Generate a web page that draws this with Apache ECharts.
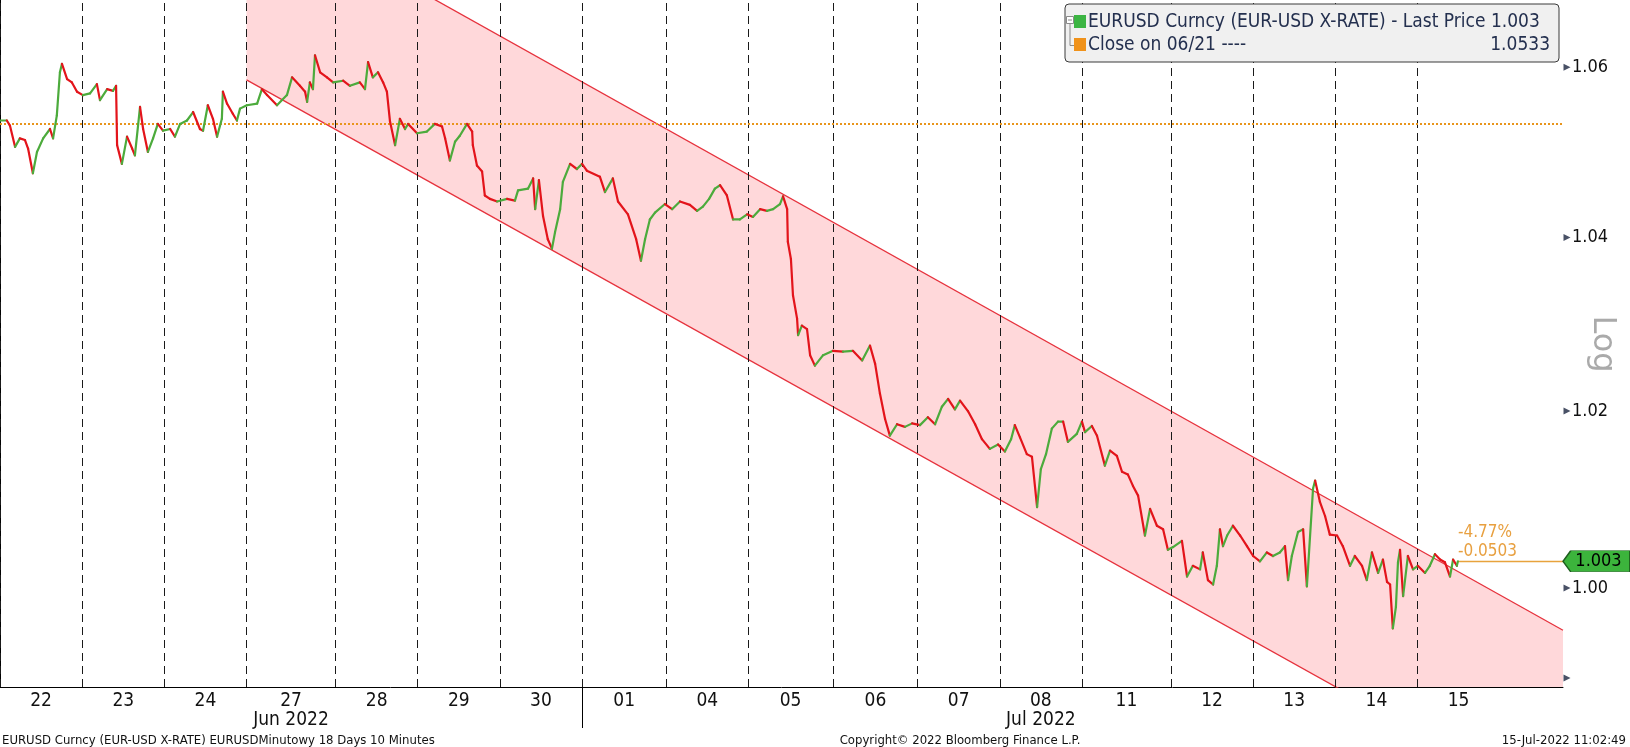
<!DOCTYPE html>
<html><head><meta charset="utf-8">
<script src="https://cdn.jsdelivr.net/npm/echarts@6/dist/echarts.min.js"></script>
<style>html,body{margin:0;padding:0;background:#fff}#c{width:1630px;height:747px}</style>
</head><body><div id="c"></div>
<script>
const FONT = '"DejaVu Sans Condensed","DejaVu Sans",sans-serif';
// x axis in session hours from the 22 Jun open
const dayLabels  = ['22','23','24','27','28','29','30','01','04','05','06','07','08','11','12','13','14','15'];
const dayStarts  = [0,24,48,72,98,122,146,170,194.6,218.5,243.3,268,292,316,342,366,390,414];
const dayCenters = [12,36,60,85,110,134,158,182.3,206.6,230.9,255.7,280,304,329,354,378,402,426];
const monthAt    = ['27','08'];
const monthNames = ['Jun 2022','Jul 2022'];
const monthBreak = 170;
const xMax = 456.5;
const yMin = 0.989, yMax = 1.068;
const yTickValues  = [0.99, 1.00, 1.02, 1.04, 1.06];
const yLabelValues = [1.00, 1.02, 1.04, 1.06];
const lastPrice = 1.003;
const refClose  = 1.0533;
const changeTexts = ['-4.77%', '-0.0503'];
const channelUpper = [[72, 1.0807], [456.5, 0.9953]];
const channelLower = [[72, 1.0585], [456.5, 0.9751]];
// EURUSD path [hour, price]
const eurusd = [
[0,1.0537],[2.0,1.0537],[2.9,1.0531],[4.4,1.0506],[5.8,1.0516],[7.3,1.0514],[8.2,1.0504],[9.6,1.0475],[10.8,1.0500],[12.6,1.0516],
[14.6,1.0527],[15.5,1.0516],[16.6,1.0543],[17.5,1.0594],[18.1,1.0604],[19.6,1.0586],[21.0,1.0582],[22.5,1.0571],[24.2,1.0567],[26.3,1.0569],
[28.3,1.0580],[29.2,1.0561],[31.3,1.0574],[33.0,1.0572],[33.9,1.0578],[34.2,1.0508],[35.6,1.0486],[37.1,1.0518],[38.6,1.0504],[39.4,1.0496],
[40.9,1.0553],[41.8,1.0527],[43.2,1.0500],[44.7,1.0516],[46.1,1.0533],[47.6,1.0525],[49.7,1.0527],[51.1,1.0518],[52.6,1.0533],[54.6,1.0537],
[56.4,1.0547],[58.4,1.0527],[59.3,1.0525],[60.7,1.0555],[62.2,1.0539],[63.4,1.0518],[64.8,1.0539],[65.1,1.0571],[66.3,1.0557],[68.0,1.0545],
[69.2,1.0537],[70.1,1.0551],[72.1,1.0555],[75.1,1.0557],[76.5,1.0574],[78.0,1.0567],[80.9,1.0555],[83.8,1.0567],[85.3,1.0588],[87.6,1.0578],
[89.1,1.0571],[89.7,1.0559],[90.5,1.0582],[91.4,1.0574],[92.0,1.0614],[93.5,1.0594],[95.5,1.0588],[97.3,1.0582],[100.2,1.0584],[102.2,1.0578],
[105.1,1.0582],[106.6,1.0574],[107.5,1.0606],[108.9,1.0588],[110.4,1.0594],[111.9,1.0582],[113.0,1.0571],[113.9,1.0536],[115.4,1.0508],[116.8,1.0539],
[118.3,1.0527],[119.2,1.0533],[121.8,1.0522],[124.7,1.0524],[127.0,1.0533],[129.1,1.0530],[130.0,1.0516],[131.4,1.0490],[132.9,1.0512],[134.3,1.0519],
[136.4,1.0533],[137.9,1.0524],[138.1,1.0508],[139.3,1.0484],[140.8,1.0477],[141.6,1.0449],[143.1,1.0445],[145.2,1.0442],[148.1,1.0445],[150.4,1.0443],
[151.3,1.0455],[154.2,1.0457],[155.7,1.0469],[156.3,1.0433],[157.4,1.0467],[158.6,1.0425],[160.0,1.0398],[161.2,1.0387],[162.1,1.0406],[163.6,1.0433],
[164.4,1.0465],[166.5,1.0486],[168.5,1.0480],[170.0,1.0486],[171.4,1.0478],[175.2,1.0471],[176.7,1.0453],[179.0,1.0469],[180.5,1.0442],[183.4,1.0427],
[185.8,1.0398],[187.2,1.0373],[188.4,1.0398],[189.8,1.0421],[191.3,1.0429],[194.2,1.0439],[196.3,1.0433],[198.6,1.0442],[201.5,1.0438],[203.6,1.0431],
[205.3,1.0436],[207.1,1.0445],[208.8,1.0457],[210.3,1.0461],[212.3,1.0449],[214.1,1.0421],[216.1,1.0421],[218.2,1.0427],[219.9,1.0424],[222.0,1.0433],
[224.0,1.0431],[225.8,1.0433],[227.8,1.0439],[228.7,1.0448],[229.9,1.0433],[230.1,1.0395],[231.0,1.0375],[231.6,1.0333],[232.8,1.0306],[233.1,1.0287],
[234.2,1.0298],[235.7,1.0294],[236.6,1.0264],[238.0,1.0252],[240.4,1.0264],[243.3,1.0269],[246.2,1.0268],[249.1,1.0269],[251.8,1.0258],[254.1,1.0275],
[255.6,1.0254],[257.0,1.0220],[258.5,1.0191],[259.9,1.0172],[262.0,1.0185],[264.3,1.0182],[266.4,1.0186],[268.7,1.0184],[271.0,1.0193],[273.1,1.0185],
[275.1,1.0205],[276.9,1.0214],[278.9,1.0202],[280.4,1.0212],[282.7,1.0200],[284.8,1.0185],[286.8,1.0168],[289.1,1.0157],[291.5,1.0162],[293.5,1.0154],
[295.3,1.0168],[296.4,1.0184],[297.9,1.0170],[299.9,1.0151],[301.4,1.0148],[302.9,1.0091],[304.0,1.0134],[305.5,1.0151],[307.2,1.0180],[309.0,1.0188],
[310.5,1.0188],[311.9,1.0165],[314.5,1.0174],[316.0,1.0188],[316.9,1.0176],[318.9,1.0183],[320.4,1.0172],[322.7,1.0138],[324.2,1.0155],[326.2,1.0149],
[327.7,1.0131],[329.4,1.0128],[330.9,1.0115],[332.4,1.0104],[334.4,1.0059],[335.9,1.0089],[337.9,1.0070],[339.7,1.0066],[341.1,1.0043],[342.6,1.0046],
[345.2,1.0053],[346.7,1.0013],[348.4,1.0025],[350.5,1.0021],[351.3,1.0040],[352.8,1.0009],[354.3,1.0004],[355.4,1.0025],[356.3,1.0066],[357.2,1.0047],
[358.4,1.0059],[360.1,1.0070],[362.2,1.0059],[364.2,1.0047],[366.0,1.0036],[368.0,1.0030],[370.0,1.0040],[371.8,1.0036],[373.8,1.0040],[375.3,1.0047],
[376.2,1.0009],[377.3,1.0036],[379.1,1.0063],[380.6,1.0066],[381.7,1.0002],[383.5,1.0112],[384.1,1.0121],[385.5,1.0097],[387.0,1.0081],[388.4,1.0060],
[390.5,1.0059],[392.2,1.0047],[394.3,1.0025],[395.7,1.0036],[397.8,1.0025],[399.2,1.0009],[400.7,1.0040],[402.5,1.0017],[403.9,1.0032],[405.1,1.0007],
[406.0,1.0004],[406.8,0.9955],[407.7,0.9979],[408.3,1.0029],[408.9,1.0043],[409.8,0.9991],[411.2,1.0036],[412.7,1.0021],[414.1,1.0025],[416.2,1.0017],
[417.6,1.0025],[419.1,1.0038],[420.6,1.0032],[422.0,1.0029],[423.5,1.0013],[424.4,1.0032],[425.5,1.0025],[425.8,1.0030]
];

const RED = '#e3141b', GREEN = '#4cab3c';
const lastX = eurusd[eurusd.length - 1][0];
const segments = eurusd.slice(1).map((d, i) => [d[0], d[1], eurusd[i][0], eurusd[i][1]]);

const chart = echarts.init(document.getElementById('c'), null, {renderer: 'canvas'});
chart.setOption({
  animation: false,
  backgroundColor: '#ffffff',
  grid: {left: 0, right: 67, top: 0, bottom: 60, containLabel: false},
  xAxis: {
    type: 'value', min: 0, max: xMax,
    axisLine: {show: true, lineStyle: {color: '#000', width: 1}},
    splitLine: {show: false},
    axisTick: {show: true, customValues: [monthBreak], length: 41, inside: false, lineStyle: {color: '#000', width: 1}},
    axisLabel: {
      show: true, customValues: dayCenters, margin: 5, color: '#111', fontFamily: FONT, fontSize: 19, lineHeight: 19,
      formatter: v => {
        const lab = dayLabels[dayCenters.indexOf(v)];
        const m = monthAt.indexOf(lab);
        return m >= 0 ? lab + '\n' + monthNames[m] : lab;
      }
    }
  },
  yAxis: {
    type: 'log', position: 'right', min: yMin, max: yMax,
    axisLine: {show: true, lineStyle: {color: '#000', width: 1}},
    splitLine: {show: false},
    axisTick: {show: false},
    axisLabel: {show: true, customValues: yLabelValues, margin: 9, color: '#111', fontFamily: FONT, fontSize: 18,
      formatter: v => Number(v).toFixed(2)}
  },
  series: [
    {
      type: 'custom', name: 'channel', z: 1, silent: true,
      data: [[channelLower[0][0], channelLower[0][1]]],
      encode: {x: 0, y: 1},
      renderItem: (params, api) => {
        const pts = [channelUpper[0], channelUpper[1], channelLower[1], channelLower[0]].map(p => api.coord(p));
        const cs = params.coordSys;
        return {type: 'polygon', shape: {points: pts}, style: {fill: '#ffd8da'},
          clipPath: {type: 'rect', shape: {x: cs.x, y: cs.y, width: cs.width, height: cs.height}}};
      }
    },
    {
      type: 'line', name: 'marks', z: 3, silent: true, symbol: 'none',
      data: [[lastX, lastPrice]], lineStyle: {opacity: 0},
      markLine: {
        silent: true, symbol: 'none', animation: false, precision: 6,
        label: {show: false},
        data: dayStarts.map(x => ({xAxis: x, lineStyle: {color: '#1a1a1a', type: [8, 5], width: 1}}))
          .concat([
            {yAxis: refClose, lineStyle: {color: '#e8951c', type: [2, 2], width: 2}},
            [{coord: [lastX, lastPrice], lineStyle: {color: '#e8a33c', type: 'solid', width: 1.3},
              label: {show: true, position: 'insideStartTop', formatter: changeTexts.join('\n'), color: '#e8a040',
                fontFamily: FONT, fontSize: 17, lineHeight: 19, distance: 0}},
             {coord: [xMax, lastPrice]}]
          ])
      }
    },
    {
      type: 'line', name: 'upper', z: 4, silent: true, symbol: 'none', clip: true,
      data: channelUpper, lineStyle: {color: '#e6323d', width: 1.3}
    },
    {
      type: 'line', name: 'lower', z: 4, silent: true, symbol: 'none', clip: true,
      data: channelLower, lineStyle: {color: '#e6323d', width: 1.3}
    },
    {
      type: 'custom', name: 'EURUSD', z: 5, silent: true, clip: true,
      data: segments, encode: {x: [0, 2], y: [1, 3]},
      renderItem: (params, api) => {
        const a = api.coord([api.value(2), api.value(3)]);
        const b = api.coord([api.value(0), api.value(1)]);
        const up = api.value(1) >= api.value(3);
        return {type: 'line', shape: {x1: a[0], y1: a[1], x2: b[0], y2: b[1]},
          style: {stroke: up ? GREEN : RED, lineWidth: 2.2, lineCap: 'round'}};
      }
    },
    {
      type: 'scatter', name: 'yticks', z: 6, silent: true, clip: false,
      data: yTickValues.map(v => [xMax, v]),
      symbol: 'triangle', symbolSize: [7, 7], symbolRotate: -90, symbolOffset: [4, 0],
      itemStyle: {color: '#1b2640'},
      markPoint: {
        silent: true, animation: false,
        data: [{coord: [xMax, lastPrice], symbol: 'path://M0,10 L8,0 L70,0 L70,20 L8,20 Z',
          symbolSize: [67, 21], symbolOffset: [33.5, 0], symbolKeepAspect: false,
          itemStyle: {color: '#3cb43c', borderColor: '#1e5e1e', borderWidth: 1},
          label: {show: true, position: 'inside', formatter: String(lastPrice), color: '#000',
            fontFamily: FONT, fontSize: 18, offset: [2, 0]}}]
      }
    }
  ],
  graphic: [
    {type: 'rect', z: 100, shape: {x: 1065, y: 4, width: 494, height: 58, r: 4},
      style: {fill: '#f0f0f0', stroke: '#3a3a3a', lineWidth: 1}},
    {type: 'rect', z: 101, shape: {x: 1066.5, y: 16.5, width: 7, height: 7},
      style: {fill: '#fff', stroke: '#8a8a8a', lineWidth: 1}},
    {type: 'line', z: 101, shape: {x1: 1068, y1: 20, x2: 1072, y2: 20}, style: {stroke: '#8a8a8a', lineWidth: 1}},
    {type: 'polyline', z: 101, shape: {points: [[1070, 24], [1070, 45.5], [1074, 45.5]]},
      style: {stroke: '#8a8a8a', fill: null, lineWidth: 1}},
    {type: 'rect', z: 101, shape: {x: 1074, y: 15, width: 12, height: 13}, style: {fill: '#3cb543'}},
    {type: 'rect', z: 101, shape: {x: 1074, y: 38, width: 12, height: 13}, style: {fill: '#f0921a'}},
    {type: 'text', z: 101, style: {x: 1088, y: 22, text: 'EURUSD Curncy (EUR-USD X-RATE) - Last Price ' + lastPrice,
      font: '19px ' + FONT, fill: '#24304f', textVerticalAlign: 'middle'}},
    {type: 'text', z: 101, style: {x: 1088, y: 45, text: 'Close on 06/21 ----',
      font: '19px ' + FONT, fill: '#24304f', textVerticalAlign: 'middle'}},
    {type: 'text', z: 101, style: {x: 1550, y: 45, text: String(refClose),
      font: '19px ' + FONT, fill: '#24304f', textAlign: 'right', textVerticalAlign: 'middle'}},
    {type: 'text', z: 101, x: 1602, y: 344, rotation: -Math.PI / 2,
      style: {x: 0, y: 0, text: 'Log', font: '32px "DejaVu Sans", sans-serif', fill: '#aaaaaa',
        textAlign: 'center', textVerticalAlign: 'middle'}},
    {type: 'text', z: 101, style: {x: 2, y: 741, text: 'EURUSD Curncy (EUR-USD X-RATE) EURUSDMinutowy 18 Days 10 Minutes',
      font: '13px ' + FONT, fill: '#111', textVerticalAlign: 'middle'}},
    {type: 'text', z: 101, style: {x: 960, y: 741, text: 'Copyright\u00a9 2022 Bloomberg Finance L.P.',
      font: '13px ' + FONT, fill: '#111', textAlign: 'center', textVerticalAlign: 'middle'}},
    {type: 'text', z: 101, style: {x: 1626, y: 741, text: '15-Jul-2022 11:02:49',
      font: '13px ' + FONT, fill: '#111', textAlign: 'right', textVerticalAlign: 'middle'}}
  ]
});
</script></body></html>
